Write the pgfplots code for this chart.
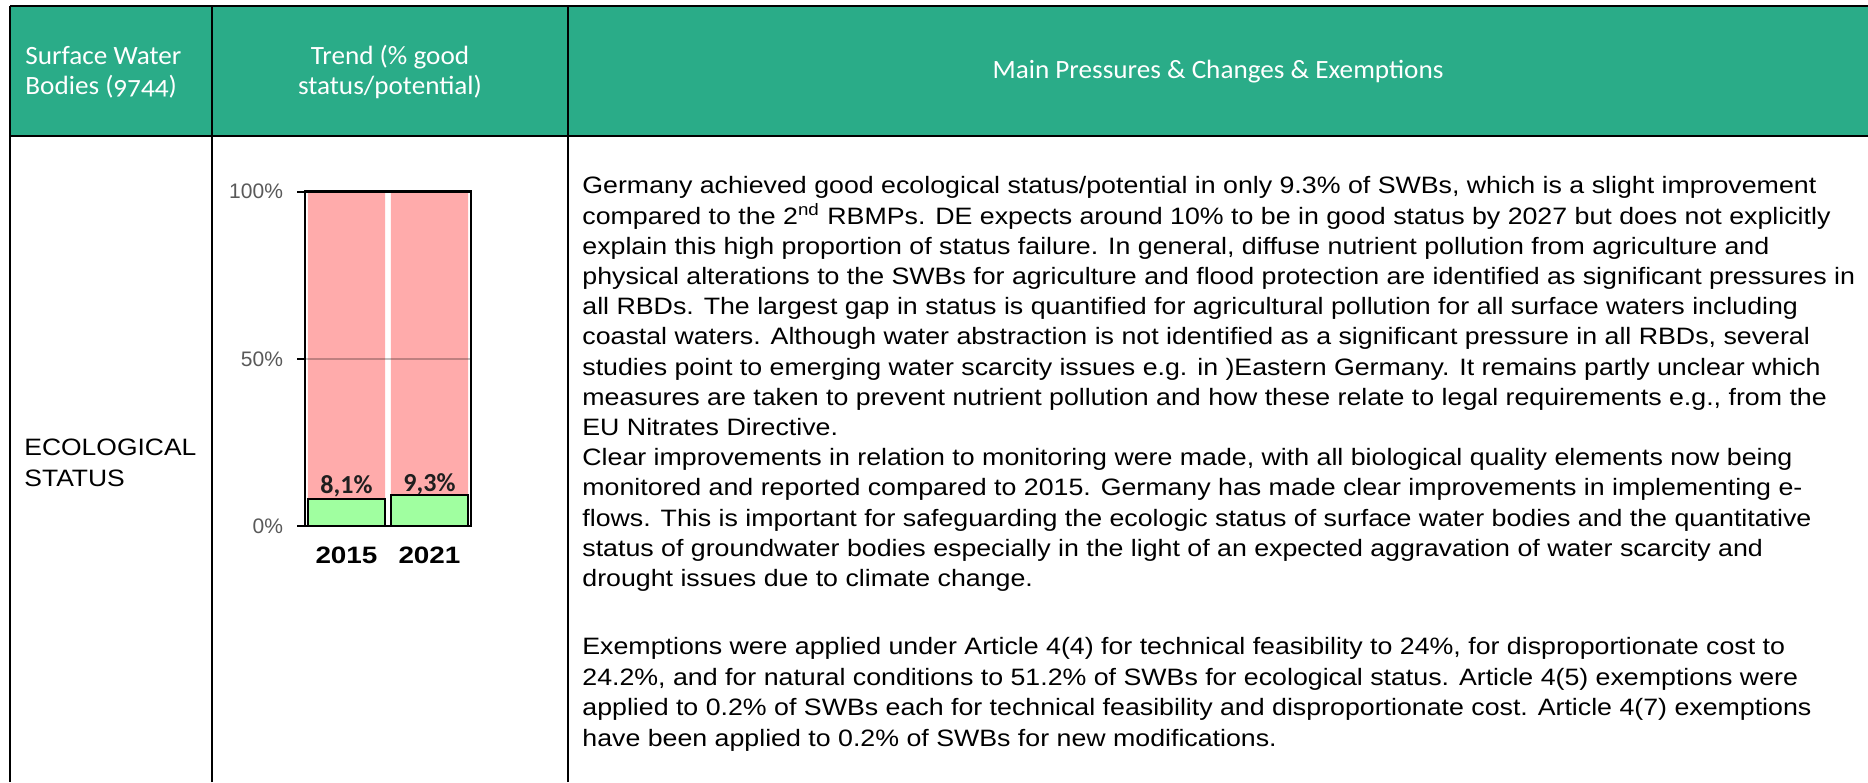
\documentclass[border=0pt]{standalone}
\usepackage{fontspec}
\setmainfont{Liberation Sans}
\newfontfamily\hdrfont[Numbers=OldStyle]{Carlito}
\newfontfamily\lblfont{Carlito}
\usepackage{graphicx}
\usepackage{pgfplots}
\pgfplotsset{compat=1.18}
\definecolor{hdrgreen}{RGB}{42,172,136}
\definecolor{pinkbar}{RGB}{255,171,171}
\definecolor{greenbar}{RGB}{160,255,160}
\definecolor{ticklab}{RGB}{89,89,89}
\newlength\tmpw
\newcommand\hfactor[3]{\settowidth\tmpw{#3}\pgfmathsetmacro#1{#2/\tmpw}}
\newcommand\bodyfont{\fontsize{11.85}{14}\selectfont}
\newcommand\hfont{\hdrfont\fontsize{13.2}{15}\selectfont}
\newcommand\ecofont{\fontsize{11.85}{14}\selectfont}
\newcommand\yrfont{\bfseries\fontsize{11.85}{14}\selectfont}
\begin{document}%
\hfactor\sxb{617}{\bodyfont Germany achieved good ecological status/potential in only 9.3\% of SWBs, which is a slight improvement}%
\hfactor\sxh{78}{\hfont Surface Water}%
\hfactor\sxe{86}{\ecofont ECOLOGICAL}%
\hfactor\sxx{31}{\yrfont 2015}%
\begin{tikzpicture}
\begin{scope}[x=0.5pt,y=0.5pt]
\useasboundingbox (0,0) rectangle (1868,782);
\fill[hdrgreen] (10,776) rectangle (1868,646);
\draw[line width=1.1pt] (10,776) -- (1868,776);
\draw[line width=1.1pt] (10,646) -- (1868,646);
\draw[line width=1.1pt] (10,0) -- (10,776);
\draw[line width=1.1pt] (212,0) -- (212,776);
\draw[line width=1.1pt] (568,0) -- (568,776);
% header texts
\node[anchor=base west, inner sep=0pt, text=white] at (25,{782-65}) {\scalebox{\sxh}[1]{\hfont Surface Water}};
\node[anchor=base west, inner sep=0pt, text=white] at (25,{782-95}) {\scalebox{\sxh}[1]{\hfont Bodies (9744)}};
\node[anchor=base, inner sep=0pt, text=white] at (390,{782-65}) {\scalebox{\sxh}[1]{\hfont Trend (\% good}};
\node[anchor=base, inner sep=0pt, text=white] at (390,{782-95}) {\scalebox{\sxh}[1]{\hfont status/potential)}};
\node[anchor=base, inner sep=0pt, text=white] at (1218,{782-79}) {\scalebox{\sxh}[1]{\hfont Main Pressures \& Changes \& Exemptions}};
% row label
\node[anchor=base west, inner sep=0pt] at (24,{782-456}) {\scalebox{\sxe}[1]{\ecofont ECOLOGICAL}};
\node[anchor=base west, inner sep=0pt] at (24,{782-487}) {\scalebox{\sxe}[1]{\ecofont STATUS}};
% body text, first part
\foreach \i/\t in {
1/{Germany achieved good ecological status/potential in only 9.3\% of SWBs, which is a slight improvement},
2/{compared to the 2\textsuperscript{nd} RBMPs. DE expects around 10\% to be in good status by 2027 but does not explicitly},
3/{explain this high proportion of status failure. In general, diffuse nutrient pollution from agriculture and},
4/{physical alterations to the SWBs for agriculture and flood protection are identified as significant pressures in},
5/{all RBDs. The largest gap in status is quantified for agricultural pollution for all surface waters including},
6/{coastal waters. Although water abstraction is not identified as a significant pressure in all RBDs, several},
7/{studies point to emerging water scarcity issues e.g. in )Eastern Germany. It remains partly unclear which},
8/{measures are taken to prevent nutrient pollution and how these relate to legal requirements e.g., from the},
9/{EU Nitrates Directive.},
10/{Clear improvements in relation to monitoring were made, with all biological quality elements now being},
11/{monitored and reported compared to 2015. Germany has made clear improvements in implementing e-},
12/{flows. This is important for safeguarding the ecologic status of surface water bodies and the quantitative},
13/{status of groundwater bodies especially in the light of an expected aggravation of water scarcity and},
14/{drought issues due to climate change.}}
{\node[anchor=base west, inner sep=0pt] at (582,{782-194-(\i-1)*30.2}) {\scalebox{\sxb}[1]{\bodyfont \t}};}
% body text, exemptions
\foreach \i/\t in {
0/{Exemptions were applied under Article 4(4) for technical feasibility to 24\%, for disproportionate cost to},
1/{24.2\%, and for natural conditions to 51.2\% of SWBs for ecological status. Article 4(5) exemptions were},
2/{applied to 0.2\% of SWBs each for technical feasibility and disproportionate cost. Article 4(7) exemptions},
3/{have been applied to 0.2\% of SWBs for new modifications.}}
{\node[anchor=base west, inner sep=0pt] at (582,{782-654.5-\i*30.7}) {\scalebox{\sxb}[1]{\bodyfont \t}};}
\end{scope}
\begin{axis}[
  at={(152.5pt,128pt)}, anchor=south west,
  width=83pt, height=167.15pt, scale only axis,
  xmin=-0.5, xmax=1.5, ymin=0, ymax=100,
  ybar stacked, bar width=0.93,
  axis on top,
  axis line style={line width=1.2pt, black},
  xtick={0,1}, xticklabels={\scalebox{\sxx}[1]{2015},\scalebox{\sxx}[1]{2021}},
  xtick style={draw=none},
  xticklabel style={anchor=base, yshift=-18.5pt, font=\yrfont, text=black},
  ytick={0,50,100}, yticklabels={0\%,50\%,100\%},
  ytick align=outside, ytick pos=left,
  major tick length=4pt,
  ytick style={line width=1.1pt, black},
  yticklabel style={font=\fontsize{10.5}{12}\selectfont, text=ticklab, xshift=-3.5pt},
  ymajorgrids, grid style={line width=1pt, black, opacity=0.25},
]
\addplot[fill=greenbar, draw=black, line width=1pt,
  nodes near coords={\pgfmathprintnumber[fixed,precision=1,use comma,assume math mode=true]{\pgfplotspointmeta}\%},
  every node near coord/.append style={font=\lblfont\bfseries\fontsize{13}{15}\selectfont, text=black!88, anchor=center, yshift=13pt}]
  coordinates {(0,8.1) (1,9.3)};
\addplot[fill=pinkbar, draw=none] coordinates {(0,91.9) (1,90.7)};
\end{axis}
\end{tikzpicture}%
\end{document}
